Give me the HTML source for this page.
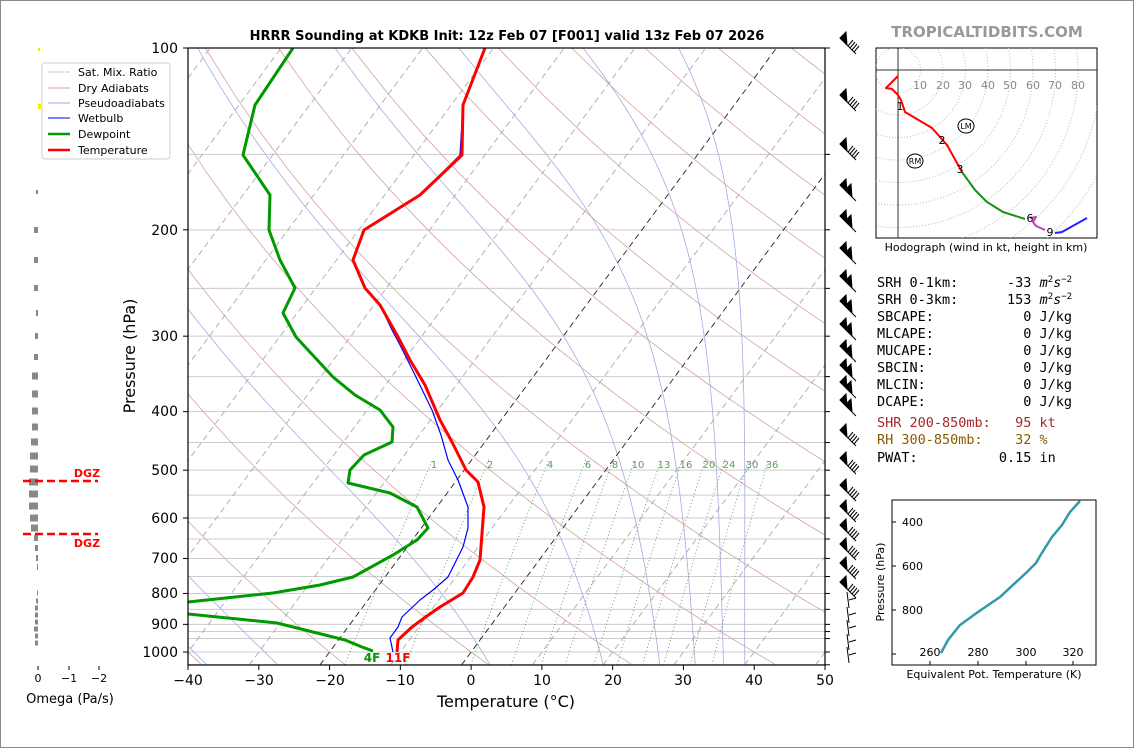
<!DOCTYPE html>
<html><head><meta charset="utf-8">
<style>
body{margin:0;background:#fff;}
#w{position:relative;width:1134px;height:748px;overflow:hidden;border:0;}
svg{position:absolute;left:0;top:0;font-family:"DejaVu Sans","Liberation Sans",sans-serif;}
.mono text{white-space:pre;}
</style></head><body>
<div id="w">
<svg id="s" width="1134" height="748" viewBox="0 0 1134 748">
<rect x="0.5" y="0.5" width="1133" height="747" fill="#fff" stroke="#888" stroke-width="1"/>
<defs><clipPath id="cp"><rect x="188" y="48" width="637" height="617"/></clipPath></defs>
<g id="bg" clip-path="url(#cp)"></g>
<g clip-path="url(#cp)" fill="none" stroke-linejoin="round">
<polyline stroke="#0000ff" stroke-width="1.2" points="485,48 463,105 460,155 420,195 364,230 353,260 365,288 380,305 392,330 400,345 415,375 432,410 441,435 448,460 458,480 468,507 468,528 463,547 448,577 433,590 420,600 402,617 398,627 390,638 393,652"/>
<polyline stroke="#009900" stroke-width="3" points="293,48 255,105 243,155 270,195 269,230 280,260 295,288 283,313 296,337 333,377 355,395 380,410 393,427 392,442 364,455 350,470 348,483 390,493 417,507 428,528 417,540 393,555 353,577 320,585 273,593 188,602"/>
<polyline stroke="#009900" stroke-width="3" points="188,614 277,623 313,632 345,640 362,647 373,651"/>
<polyline stroke="#ff0000" stroke-width="3" points="485,48 463,105 462,155 420,195 364,230 353,260 365,288 380,305 397,335 410,360 425,385 440,420 452,442 466,470 478,482 484,507 480,560 473,577 463,593 440,607 427,616 412,627 398,640 397,652"/>
</g>
<g font-size="10" fill="#5a9a5a">
<text x="434" y="468" text-anchor="middle">1</text><text x="490" y="468" text-anchor="middle">2</text>
<text x="550" y="468" text-anchor="middle">4</text><text x="588" y="468" text-anchor="middle">6</text>
<text x="615" y="468" text-anchor="middle">8</text><text x="638" y="468" text-anchor="middle">10</text>
<text x="664" y="468" text-anchor="middle">13</text><text x="686" y="468" text-anchor="middle">16</text>
<text x="709" y="468" text-anchor="middle">20</text><text x="729" y="468" text-anchor="middle">24</text>
<text x="752" y="468" text-anchor="middle">30</text><text x="772" y="468" text-anchor="middle">36</text>
</g>
<text x="372" y="662" font-size="12" font-weight="bold" fill="#009900" text-anchor="middle">4F</text>
<text x="398" y="662" font-size="12" font-weight="bold" fill="#ff0000" text-anchor="middle">11F</text>
<rect x="188" y="48" width="637" height="617" fill="none" stroke="#000" stroke-width="1.2"/>
<g id="ax"></g>
<g font-size="14" fill="#000">
<text x="188" y="685" text-anchor="middle">−40</text><text x="259" y="685" text-anchor="middle">−30</text>
<text x="330" y="685" text-anchor="middle">−20</text><text x="400" y="685" text-anchor="middle">−10</text>
<text x="471" y="685" text-anchor="middle">0</text><text x="542" y="685" text-anchor="middle">10</text>
<text x="613" y="685" text-anchor="middle">20</text><text x="683" y="685" text-anchor="middle">30</text>
<text x="754" y="685" text-anchor="middle">40</text><text x="825" y="685" text-anchor="middle">50</text>
<text x="178" y="53" text-anchor="end">100</text><text x="178" y="235" text-anchor="end">200</text>
<text x="178" y="341" text-anchor="end">300</text><text x="178" y="416" text-anchor="end">400</text>
<text x="178" y="475" text-anchor="end">500</text><text x="178" y="523" text-anchor="end">600</text>
<text x="178" y="563" text-anchor="end">700</text><text x="178" y="598" text-anchor="end">800</text>
<text x="178" y="629" text-anchor="end">900</text><text x="178" y="657" text-anchor="end">1000</text>
</g>
<text x="506" y="707" font-size="16" text-anchor="middle">Temperature (°C)</text>
<text transform="translate(135,356) rotate(-90)" font-size="16" text-anchor="middle">Pressure (hPa)</text>
<text x="507" y="40" font-size="13" font-weight="bold" text-anchor="middle">HRRR Sounding at KDKB Init: 12z Feb 07 [F001] valid 13z Feb 07 2026</text>
<text x="987" y="37" font-size="15" font-weight="bold" fill="#999" text-anchor="middle">TROPICALTIDBITS.COM</text>
<rect x="42" y="63" width="128" height="96" rx="3" fill="#fff" stroke="#ccc"/>
<g font-size="11" fill="#000">
<line x1="48" y1="72" x2="70" y2="72" stroke="#5a9a5a" stroke-dasharray="1,1.5"/><text x="78" y="76">Sat. Mix. Ratio</text>
<line x1="48" y1="88" x2="70" y2="88" stroke="#d9a0a0"/><text x="78" y="92">Dry Adiabats</text>
<line x1="48" y1="103" x2="70" y2="103" stroke="#a8a8e6"/><text x="78" y="107">Pseudoadiabats</text>
<line x1="48" y1="118" x2="70" y2="118" stroke="#0000ff"/><text x="78" y="122">Wetbulb</text>
<line x1="48" y1="134" x2="70" y2="134" stroke="#009900" stroke-width="2.5"/><text x="78" y="138">Dewpoint</text>
<line x1="48" y1="150" x2="70" y2="150" stroke="#ff0000" stroke-width="2.5"/><text x="78" y="154">Temperature</text>
</g>
<rect x="38" y="48" width="2" height="3" fill="#ee0"/><rect x="38" y="104" width="3" height="5" fill="#ee0"/>
<g id="om" fill="#888"></g>
<line x1="23" y1="481" x2="98" y2="481" stroke="#f00" stroke-width="2.5" stroke-dasharray="8,4"/>
<line x1="23" y1="534" x2="98" y2="534" stroke="#f00" stroke-width="2.5" stroke-dasharray="8,4"/>
<text x="87" y="477" font-size="11" font-weight="bold" fill="#f00" text-anchor="middle">DGZ</text>
<text x="87" y="547" font-size="11" font-weight="bold" fill="#f00" text-anchor="middle">DGZ</text>
<g stroke="#000"><line x1="38" y1="666" x2="38" y2="670"/><line x1="69" y1="666" x2="69" y2="670"/><line x1="99" y1="666" x2="99" y2="670"/></g>
<g font-size="11"><text x="38" y="682" text-anchor="middle">0</text><text x="69" y="682" text-anchor="middle">−1</text><text x="99" y="682" text-anchor="middle">−2</text></g>
<text x="70" y="703" font-size="13" text-anchor="middle">Omega (Pa/s)</text>
<g id="barbs" stroke="#000" fill="#000"></g>
<rect x="876" y="48" width="221" height="190" fill="#fff" stroke="#000"/>
<defs><clipPath id="hc"><rect x="876" y="48" width="221" height="190"/></clipPath></defs>
<g id="rings" clip-path="url(#hc)" fill="none" stroke="#bbb" stroke-dasharray="1,2"></g>
<line x1="898" y1="48" x2="898" y2="238" stroke="#333"/><line x1="876" y1="70" x2="1097" y2="70" stroke="#333"/>
<g font-size="11" fill="#888">
<text x="920" y="89" text-anchor="middle">10</text><text x="943" y="89" text-anchor="middle">20</text><text x="965" y="89" text-anchor="middle">30</text><text x="988" y="89" text-anchor="middle">40</text><text x="1010" y="89" text-anchor="middle">50</text><text x="1033" y="89" text-anchor="middle">60</text><text x="1055" y="89" text-anchor="middle">70</text><text x="1078" y="89" text-anchor="middle">80</text></g>
<g fill="none" stroke-width="2" stroke-linejoin="round">
<polyline stroke="#f00" points="898,76 891,83 886,88 892,89 898,95 901,100 905,112 932,128 940,137 947,145 957,163 962,172"/>
<polyline stroke="#1a8f1a" points="962,172 975,190 987,202 1003,212 1025,219"/>
<polyline stroke="#c040c0" points="1030,218 1036,217 1033,222 1036,226 1045,230"/>
<polyline stroke="#22f" points="1055,233 1062,232 1087,218"/>
</g>
<g font-size="11" fill="#000">
<text x="900" y="110" text-anchor="middle">1</text><text x="942" y="144" text-anchor="middle">2</text><text x="960" y="173" text-anchor="middle">3</text><text x="1030" y="222" text-anchor="middle">6</text><text x="1050" y="236" text-anchor="middle">9</text></g>
<ellipse cx="966" cy="126" rx="8" ry="7" fill="#fff" stroke="#000"/><text x="966" y="129" font-size="8" text-anchor="middle">LM</text>
<ellipse cx="915" cy="161" rx="8" ry="7" fill="#fff" stroke="#000"/><text x="915" y="164" font-size="8" text-anchor="middle">RM</text>
<text x="986" y="251" font-size="11" text-anchor="middle">Hodograph (wind in kt, height in km)</text>
<g class="mono" font-family="'DejaVu Sans Mono','Liberation Mono',monospace" font-size="13.5">
<text x="877" y="287">SRH 0-1km:      -33 <tspan font-style="italic">m</tspan><tspan font-size="9" dy="-5">2</tspan><tspan dy="5" font-style="italic">s</tspan><tspan font-size="9" dy="-5">−2</tspan></text>
<text x="877" y="304">SRH 0-3km:      153 <tspan font-style="italic">m</tspan><tspan font-size="9" dy="-5">2</tspan><tspan dy="5" font-style="italic">s</tspan><tspan font-size="9" dy="-5">−2</tspan></text>
<text x="877" y="321">SBCAPE:           0 J/kg</text>
<text x="877" y="338">MLCAPE:           0 J/kg</text>
<text x="877" y="355">MUCAPE:           0 J/kg</text>
<text x="877" y="372">SBCIN:            0 J/kg</text>
<text x="877" y="389">MLCIN:            0 J/kg</text>
<text x="877" y="406">DCAPE:            0 J/kg</text>
<text x="877" y="427" fill="#a52a2a">SHR 200-850mb:   95 kt</text>
<text x="877" y="444" fill="#8b5a00">RH 300-850mb:    32 %</text>
<text x="877" y="462">PWAT:          0.15 in</text>
</g>
<rect x="892" y="500" width="204" height="165" fill="#fff" stroke="#000"/>
<g stroke="#000"><line x1="892" y1="522" x2="896" y2="522"/><line x1="892" y1="566" x2="896" y2="566"/><line x1="892" y1="610" x2="896" y2="610"/><line x1="892" y1="654" x2="896" y2="654"/>
<line x1="930" y1="665" x2="930" y2="661"/><line x1="978" y1="665" x2="978" y2="661"/><line x1="1026" y1="665" x2="1026" y2="661"/><line x1="1073" y1="665" x2="1073" y2="661"/></g>
<g font-size="11"><text x="902" y="526">400</text><text x="902" y="570">600</text><text x="902" y="614">800</text>
<text x="930" y="656" text-anchor="middle">260</text><text x="978" y="656" text-anchor="middle">280</text><text x="1026" y="656" text-anchor="middle">300</text><text x="1073" y="656" text-anchor="middle">320</text></g>
<polyline fill="none" stroke="#3399aa" stroke-width="2.5" points="941,653 948,640 960,625 978,612 1000,597 1027,572 1036,563 1040,556 1045,548 1052,537 1062,525 1070,512 1080,501"/>
<text x="994" y="678" font-size="11" text-anchor="middle">Equivalent Pot. Temperature (K)</text>
<text transform="translate(884,582) rotate(-90)" font-size="11" text-anchor="middle">Pressure (hPa)</text>
</svg>
</div>
<script>
(function(){
var NS="http://www.w3.org/2000/svg";
function el(p,t,a){var e=document.createElementNS(NS,t);for(var k in a)e.setAttribute(k,a[k]);p.appendChild(e);return e;}
function Y(p){return 48+604*Math.log10(p/100);}
function X(T,y){return 188+(T+40)*7.078+(652-y)*0.74;}
var bg=document.getElementById('bg'),ax=document.getElementById('ax');
var ps=[];for(var p=100;p<=1050;p+=50)ps.push(p);ps.push(925);
ps.forEach(function(p){var y=Y(p);el(bg,'line',{x1:188,x2:825,y1:y,y2:y,stroke:'#ccc','stroke-width':1});
el(ax,'line',{x1:825,x2:830,y1:y,y2:y,stroke:'#000'});});
[100,200,300,400,500,600,700,800,900,1000].forEach(function(p){var y=Y(p);el(ax,'line',{x1:183,x2:188,y1:y,y2:y,stroke:'#000'});});
for(var t=-40;t<=50;t+=10){var x=188+(t+40)*7.078;el(ax,'line',{x1:x,x2:x,y1:665,y2:670,stroke:'#000'});}
function line(pts,a){a.points=pts.map(function(q){return q[0].toFixed(1)+','+q[1].toFixed(1)}).join(' ');a.fill='none';el(bg,'polyline',a);}
for(var t0=-80;t0<=220;t0+=20){var th=t0+273.15;var pts=[];for(var p=100;p<=1060;p+=20){var y=Y(p);var T=th*Math.pow(p/1000,0.286)-273.15;pts.push([X(T,y),y]);}line(pts,{stroke:'#d9a0a0','stroke-width':0.8});}
var Rd=287,cp=1005,Lv=2.5e6,eps=0.622;
function es(T){return 6.112*Math.exp(17.67*T/(T+243.5));}
function rate(T,p){var e=es(T-273.15),rs=eps*e/(p-e);return (Rd*T+Lv*rs)/(cp+Lv*Lv*rs*eps/(Rd*T*T))/p;}
[-76,-66,-56,-46,-36,-26,4,20,28,33,37,40].forEach(function(t0){var T=t0+273.15,p=1050,pts=[];
while(p>=100){var y=Y(p);pts.push([X(T-273.15,y),y]);T-=rate(T,p)*5;p-=5;}
line(pts,{stroke:'#a8a8e6','stroke-width':0.8});});
for(var t=-140;t<=50;t+=10){var a={stroke:(t==0||t==-20)?'#222':'#aaa','stroke-width':0.9,'stroke-dasharray':'6,4'};
line([[X(t,665),665],[X(t,48),48]],a);}
[1,2,4,6,8,10,13,16,20,24,30,36].forEach(function(w){var pts=[];for(var p=1050;p>=480;p-=10){var y=Y(p);var e=w*p/(622+w);var l=Math.log(e/6.112);var T=243.5*l/(17.67-l);pts.push([X(T,y),y]);}
line(pts,{stroke:'#5a9a5a','stroke-width':0.9,'stroke-dasharray':'1,2.5'});});
var om=document.getElementById('om');
var ob=[[192,2,4],[230,4,6],[260,4,6],[288,4,6],[313,2,6],[336,3,6],[357,4,6],[376,6,7],[394,6,7],[411,6,7],[427,6,7],[442,7,7],[456,8,7],[469,8,7],[482,9,7],[494,9,7],[506,9,7],[518,8,7],[528,7,7],[538,4,6],[548,3,6],[558,2,6],[567,1,6],[593,1,5],[601,2,5],[608,3,5],[615,3,5],[622,3,5],[629,4,5],[636,3,5],[643,3,5]];
ob.forEach(function(b){el(om,'rect',{x:38-b[1],y:b[0]-b[2]/2,width:b[1],height:b[2]});});
var bb=document.getElementById('barbs');
var ys=[42,99,148,189,220,252,280,305,328,350,369,386,404,434,462,489,510,529,548,567,586],i;
ys.forEach(function(y,k){el(bb,'line',{x1:840,y1:y-4,x2:856,y2:y+12,'stroke-width':1});
el(bb,'polygon',{points:(840)+','+(y-4)+' '+(846)+','+(y-10)+' '+(847)+','+(y+3)});
if(k>=13||k<3){for(i=0;i<4;i++){el(bb,'line',{x1:848+i*2,y1:y+4+i*2,x2:853+i*2,y2:y-2+i*2,'stroke-width':1});}}
else{el(bb,'polygon',{points:'845,'+(y+1)+' 851,'+(y-5)+' 852,'+(y+8)});}});
[600,615,628,642,655].forEach(function(y){el(bb,'line',{x1:847,y1:y-8,x2:849,y2:y+8,'stroke-width':1});el(bb,'line',{x1:849,y1:y,x2:856,y2:y-2,'stroke-width':1});});
var rg=document.getElementById('rings');
for(var r=1;r<=10;r++)el(rg,'circle',{cx:898,cy:70,r:r*22.5});
})();
</script>
</body></html>
